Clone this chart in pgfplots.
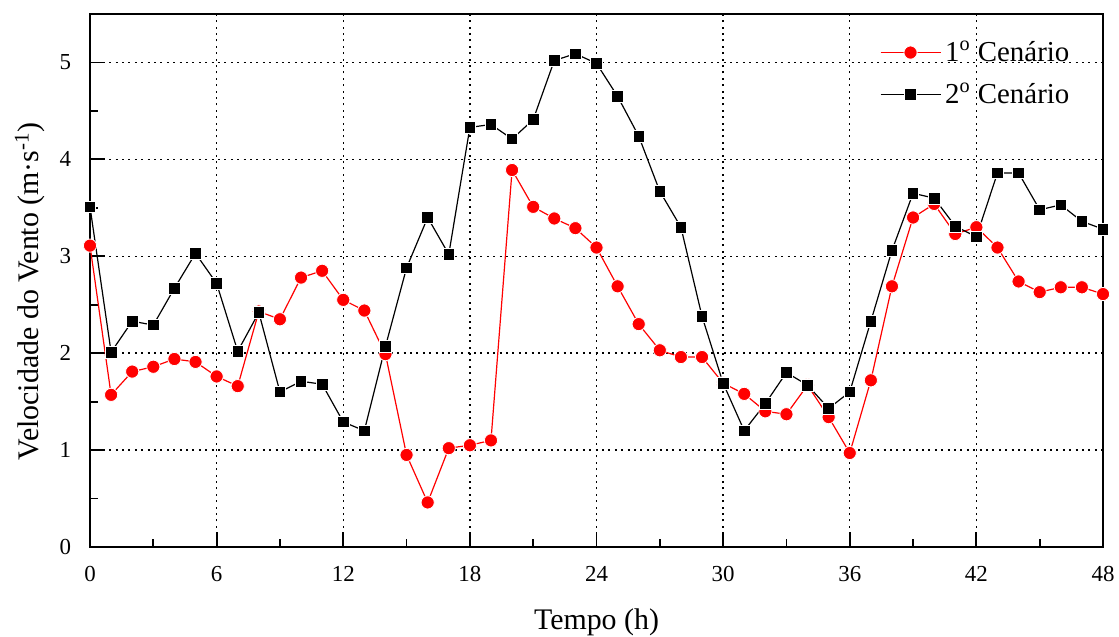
\documentclass[border=0pt]{standalone}
\usepackage{pgfplots}
\pgfplotsset{compat=1.18}
\usepackage{fontspec}
\setmainfont{Liberation Serif}
\begin{document}
\begin{tikzpicture}
\useasboundingbox (-45bp,-45bp) rectangle (514.5bp,273.5bp);
\begin{axis}[
  scale only axis,
  width=506.5bp, height=266.5bp,
  xmin=0, xmax=48, ymin=0, ymax=5.5,
  xtick={0,6,...,48}, ytick={0,1,...,5},
  minor x tick num=1, minor y tick num=1,
  xtick pos=left, ytick pos=left,
  tick align=inside,
  major tick length=7.5bp, minor tick length=4bp,
  every tick/.style={black, line width=0.9bp},
  axis line style={line width=1bp},
  grid=major,
  major grid style={black, line width=0.7bp, dash pattern=on 1bp off 2.2bp},
  /pgf/number format/assume math mode=true,
  tick label style={font=\fontsize{11.5}{13}\selectfont},
  xticklabel style={yshift=-6bp},
  yticklabel style={xshift=-6bp},
  xlabel={Tempo (h)},
  ylabel={Velocidade do Vento (m·s\textsuperscript{-1})},
  label style={font=\fontsize{15}{18}\selectfont},
  xlabel style={anchor=center, at={(axis description cs:0.5,-0.1407)}},
  ylabel style={anchor=center, at={(axis description cs:-0.0592,0.48)}},
  legend style={draw=none, fill=none, at={(0.977,0.965)}, anchor=north east,
    font=\fontsize{14.5}{17}\selectfont, row sep=5.5bp},
  legend cell align=left,
  legend image code/.code={\draw[mark repeat=2,mark phase=2,#1] plot coordinates {(0bp,0bp) (15bp,0bp) (30bp,0bp)};},
]
\addplot[red, line width=0.6bp, mark=*, mark size=3.3bp, mark options={fill=red, draw=white, line width=0.4bp}] coordinates {
(0,3.11) (1,1.57) (2,1.81) (3,1.86) (4,1.94) (5,1.91) (6,1.76) (7,1.66) (8,2.43) (9,2.35)
(10,2.78) (11,2.85) (12,2.55) (13,2.44) (14,1.99) (15,0.95) (16,0.46) (17,1.02) (18,1.05) (19,1.10)
(20,3.89) (21,3.51) (22,3.39) (23,3.29) (24,3.09) (25,2.69) (26,2.30) (27,2.03) (28,1.96) (29,1.96)
(30,1.69) (31,1.58) (32,1.40) (33,1.37) (34,1.67) (35,1.34) (36,0.97) (37,1.72) (38,2.69) (39,3.40)
(40,3.54) (41,3.23) (42,3.30) (43,3.09) (44,2.74) (45,2.63) (46,2.68) (47,2.68) (48,2.61)
};
\addlegendentry{1\textsuperscript{o} Cenário}
\addplot[black, line width=0.6bp, mark=square*, mark size=2.9bp, mark options={fill=black, draw=white, line width=0.4bp}] coordinates {
(0,3.51) (1,2.01) (2,2.33) (3,2.29) (4,2.67) (5,3.03) (6,2.72) (7,2.02) (8,2.42) (9,1.60)
(10,1.71) (11,1.68) (12,1.29) (13,1.20) (14,2.07) (15,2.88) (16,3.40) (17,3.02) (18,4.33) (19,4.36)
(20,4.21) (21,4.41) (22,5.02) (23,5.09) (24,4.99) (25,4.65) (26,4.24) (27,3.67) (28,3.30) (29,2.38)
(30,1.69) (31,1.20) (32,1.48) (33,1.80) (34,1.67) (35,1.43) (36,1.60) (37,2.33) (38,3.06) (39,3.65)
(40,3.60) (41,3.31) (42,3.20) (43,3.86) (44,3.86) (45,3.48) (46,3.53) (47,3.36) (48,3.28)
};
\addlegendentry{2\textsuperscript{o} Cenário}
\end{axis}
\end{tikzpicture}
\end{document}
